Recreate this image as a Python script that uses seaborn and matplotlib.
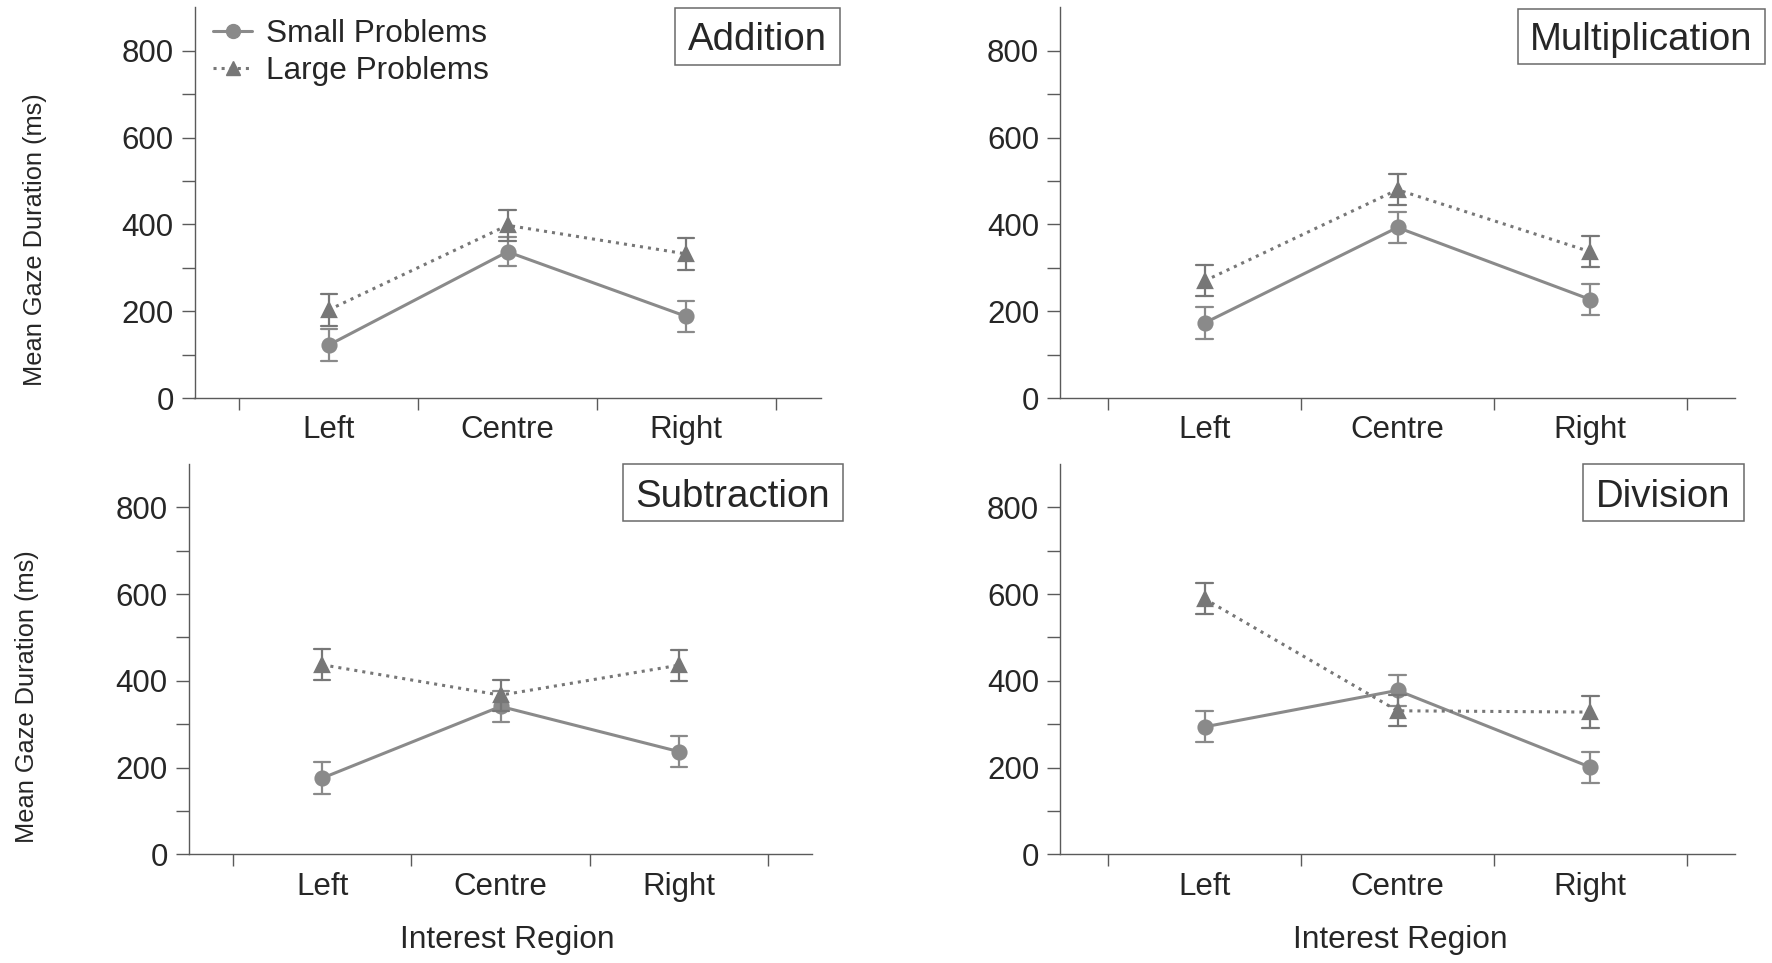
import numpy as np
import pandas as pd
import matplotlib
matplotlib.use("Agg")
import matplotlib.pyplot as plt
from matplotlib.lines import Line2D
from matplotlib.patches import Rectangle
import seaborn as sns

# ---------------- data ----------------
regions = ["Left", "Centre", "Right"]
sizes = ["Small Problems", "Large Problems"]
operations = ["Addition", "Multiplication", "Subtraction", "Division"]

addition_small = [122, 337, 188]
addition_small_err = [36, 33, 36]
addition_large = [203, 398, 332]
addition_large_err = [36, 36, 36]

multiplication_small = [173, 393, 227]
multiplication_small_err = [36, 36, 36]
multiplication_large = [270, 480, 337]
multiplication_large_err = [36, 36, 36]

subtraction_small = [176, 341, 237]
subtraction_small_err = [36, 36, 36]
subtraction_large = [437, 367, 436]
subtraction_large_err = [36, 36, 36]

division_small = [294, 378, 201]
division_small_err = [36, 36, 36]
division_large = [589, 331, 328]
division_large_err = [36, 36, 36]

y_ticks = [0, 200, 400, 600, 800]
y_label = "Mean Gaze Duration (ms)"
x_label = "Interest Region"

series = {
    "Addition": (addition_small, addition_small_err, addition_large, addition_large_err),
    "Multiplication": (multiplication_small, multiplication_small_err, multiplication_large, multiplication_large_err),
    "Subtraction": (subtraction_small, subtraction_small_err, subtraction_large, subtraction_large_err),
    "Division": (division_small, division_small_err, division_large, division_large_err),
}


def build_frame(op):
    s, se, l, le = series[op]
    rows = []
    for size, means, errs in ((sizes[0], s, se), (sizes[1], l, le)):
        for reg, m, e in zip(regions, means, errs):
            # two observations whose min/max give mean +/- error
            rows.append({"region": reg, "size": size, "value": m - e})
            rows.append({"region": reg, "size": size, "value": m + e})
    return pd.DataFrame(rows)


# ---------------- style ----------------
sns.set_style("white")
plt.rcParams["font.family"] = ["Liberation Sans", "DejaVu Sans"]

W, H = 1772, 963
fig = plt.figure(figsize=(W / 100, H / 100), dpi=100)

axis_col = "#5a5a5a"
palette = {sizes[0]: "#8a8a8a", sizes[1]: "#777777"}

# axes rectangles in pixels: left, right, bottom(y of zero)
rects = {
    "Addition": (194.5, 820.5, 398.0),
    "Multiplication": (1060.0, 1735.0, 398.0),
    "Subtraction": (188.7, 812.5, 854.4),
    "Division": (1060.0, 1735.0, 854.4),
}
ax_h = 390.5

boxes = {  # title box pixel extents: x0, x1, y0, y1 (top-down)
    "Addition": (675, 840, 8, 65),
    "Multiplication": (1518, 1765, 9, 64),
    "Subtraction": (623, 843, 464, 521),
    "Division": (1583, 1744, 464, 521),
}

ylabel_x = {"Addition": -0.236, "Subtraction": -0.2395}
xlabel_x = {"Subtraction": 0.51, "Division": 0.504}

for op in operations:
    l, r, b = rects[op]
    ax = fig.add_axes([l / W, 1 - b / H, (r - l) / W, ax_h / H])
    df = build_frame(op)
    sns.pointplot(
        data=df, x="region", y="value", hue="size",
        order=regions, hue_order=sizes, palette=palette,
        markers=["o", "^"], linestyles=["-", ":"],
        errorbar=("pi", 100), capsize=0.09, dodge=False,
        err_kws={"linewidth": 1.6}, legend=False,
        markersize=10, linewidth=2.2, ax=ax,
    )
    ax.set_xlim(-0.75, 2.75)
    ax.set_ylim(0, 900)
    ax.set_yticks(y_ticks)
    ax.set_yticks([100, 300, 500, 700], minor=True)
    ax.set_xticks([-0.5, 0.5, 1.5, 2.5], minor=True)
    ax.tick_params(axis="y", which="both", direction="out", length=9.5, width=1,
                   color=axis_col, labelsize=22.5, pad=5.5, left=True)
    ax.tick_params(axis="x", which="major", length=0, labelsize=22.5, pad=12.5, bottom=True)
    ax.tick_params(axis="x", which="minor", direction="out", length=8.5, width=1,
                   color=axis_col, bottom=True)
    for sp in ["top", "right"]:
        ax.spines[sp].set_visible(False)
    for sp in ["left", "bottom"]:
        ax.spines[sp].set_color(axis_col)
        ax.spines[sp].set_linewidth(1.0)
    ax.set_xlabel("")
    ax.set_ylabel("")
    if op in ylabel_x:
        ax.set_ylabel(y_label, fontsize=18.3)
        ax.yaxis.set_label_coords(ylabel_x[op], 0.405)
    if op in xlabel_x:
        ax.set_xlabel(x_label, fontsize=22.8)
        ax.xaxis.set_label_coords(xlabel_x[op], -0.182)

    x0, x1, y0, y1 = boxes[op]
    fig.patches.append(Rectangle((x0 / W, 1 - y1 / H), (x1 - x0) / W, (y1 - y0) / H,
                                 transform=fig.transFigure, fill=False,
                                 edgecolor="#6a6a6a", linewidth=1.1))
    fig.text((x0 + x1) / 2 / W, 1 - (y0 + y1) / 2 / H, op, fontsize=27.6,
             ha="center", va="center_baseline")

    if op == "Addition":
        handles = [
            Line2D([], [], color=palette[sizes[0]], marker="o", linestyle="-",
                   markersize=10, linewidth=2.2),
            Line2D([], [], color=palette[sizes[1]], marker="^", linestyle=":",
                   markersize=10, linewidth=2.2),
        ]
        fig.legend(handles, sizes, loc="upper left",
                   bbox_to_anchor=(213 / W, 1 - 19 / H), bbox_transform=fig.transFigure,
                   frameon=False, fontsize=22.7, borderpad=0, borderaxespad=0,
                   handlelength=1.25, handletextpad=0.42, labelspacing=0.21)

fig.savefig("out.png", dpi=100)
